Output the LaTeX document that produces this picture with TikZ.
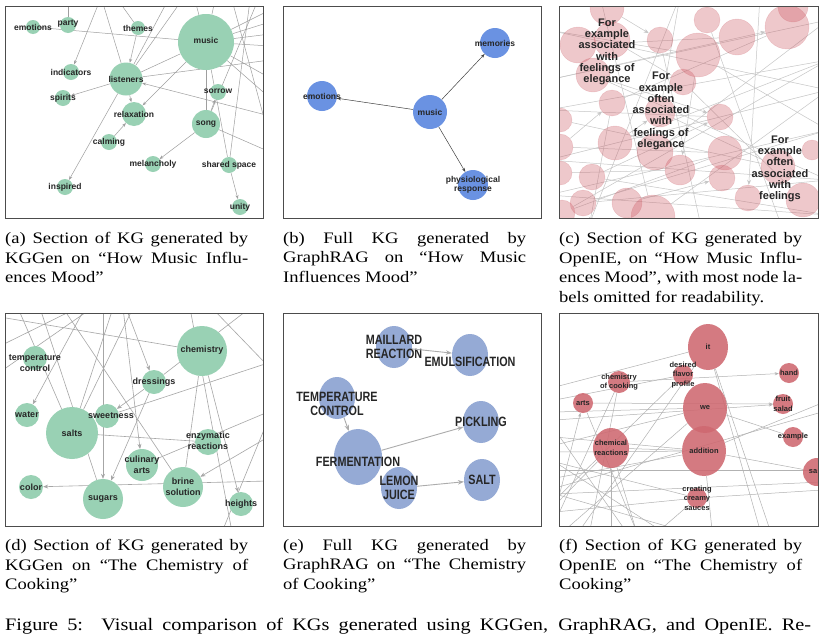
\documentclass[tikz,border=0pt]{standalone}
\usepackage{fontspec}
\setmainfont{Liberation Serif}[FakeStretch=1.16]
\setsansfont{Liberation Sans}
\newfontfamily\narrowsans{Liberation Sans}[FakeStretch=0.8]
\usepackage{xcolor}
\usepackage{tikz}
\usetikzlibrary{arrows.meta, shapes.geometric, backgrounds}
\definecolor{kggreen}{RGB}{153,209,180}
\definecolor{grblue}{RGB}{106,146,226}
\definecolor{grlight}{RGB}{149,170,213}
\definecolor{iepink}{RGB}{205,90,100}
\definecolor{iered}{RGB}{207,104,112}
\tikzset{
  kgnode/.style={circle,fill=kggreen,inner sep=0pt,minimum size=#1},
  grnode/.style={circle,fill=grblue,inner sep=0pt,minimum size=#1},
  glnode/.style={ellipse,fill=grlight,inner sep=0pt,minimum width=36pt,minimum height=42pt},
  ienode/.style={circle,fill=iepink,fill opacity=0.33,draw=iepink,draw opacity=0.25,inner sep=0pt},
  irnode/.style={ellipse,fill=iered,fill opacity=0.88,inner sep=0pt,minimum width=#1,minimum height=#1},
  lbla/.style={font=\sffamily\bfseries\fontsize{8.5}{9.5}\selectfont,text=black!85,align=center,inner sep=0pt},
  lbld/.style={font=\sffamily\bfseries\fontsize{9}{10.5}\selectfont,text=black!85,align=center,inner sep=0pt},
  lblc/.style={font=\sffamily\bfseries\fontsize{11}{11.3}\selectfont,text=black!85,align=center,inner sep=0pt},
  lble/.style={font=\narrowsans\bfseries\fontsize{13.5}{14}\selectfont,text=black!85,align=center,inner sep=0pt},
  lblf/.style={font=\sffamily\bfseries\fontsize{7.5}{9.5}\selectfont,text=black!85,align=center,inner sep=0pt},
  aedge/.style={draw=gray!75,line width=0.5pt},
  aarr/.style={aedge,-{Stealth[length=4pt,width=3pt]}},
  bedge/.style={draw=black!75,line width=0.5pt,-{Stealth[length=4pt,width=3pt]}},
  cedge/.style={draw=gray!45,line width=0.5pt},
  carr/.style={cedge,-{Stealth[length=5pt,width=4pt]}},
  dedge/.style={draw=gray!70,line width=0.6pt},
  darr/.style={dedge,-{Stealth[length=5pt,width=4pt]}},
  eedge/.style={draw=gray!65,line width=0.9pt,-{Stealth[length=6pt,width=4.5pt]}},
  fedge/.style={draw=gray!60,line width=0.5pt},
  farr/.style={fedge,-{Stealth[length=4pt,width=3pt]}},
  panel/.style={draw=black!70,line width=0.8pt},
  subcap/.style={anchor=north west,text width=243pt,align=justify,inner sep=0pt,font=\fontsize{16}{19.6}\selectfont}
}

\begin{document}
\begin{tikzpicture}[x=1pt,y=-1pt]
  \useasboundingbox (0,0) rectangle (820,643);
  \begin{scope}[on background layer]
    \fill[white] (0,0) rectangle (820,643);
  \end{scope}

  % (a) KGGen, music
  \begin{scope}
    \clip (5,6) rectangle (263,218);
    \node[kgnode=56pt,label={[lbla,yshift=2pt]center:music}] (aMusic) at (206,42) {};
    \node[kgnode=33pt,label={[lbla]center:listeners}] (aList) at (126,79) {};
    \node[kgnode=28pt,label={[lbla]center:song}] (aSong) at (206,124) {};
    \node[kgnode=14pt,label={[lbla]center:emotions}] (aEmo) at (33,27) {};
    \node[kgnode=16pt,label={[lbla,yshift=1pt]center:party}] (aParty) at (68,25) {};
    \node[kgnode=14pt,label={[lbla]center:themes}] (aThemes) at (138,28) {};
    \node[kgnode=16pt,label={[lbla]center:indicators}] (aInd) at (71,72) {};
    \node[kgnode=16pt,label={[lbla]center:spirits}] (aSpir) at (63,98) {};
    \node[kgnode=16pt,label={[lbla,yshift=1pt]center:sorrow}] (aSorrow) at (218,92) {};
    \node[kgnode=24pt,label={[lbla]center:relaxation}] (aRelax) at (134,114) {};
    \node[kgnode=16pt,label={[lbla]center:calming}] (aCalm) at (109,142) {};
    \node[kgnode=16pt,label={[lbla]center:melancholy}] (aMel) at (153,164) {};
    \node[kgnode=16pt,label={[lbla]center:shared space}] (aShared) at (229,165) {};
    \node[kgnode=16pt,label={[lbla]center:inspired}] (aInsp) at (65,187) {};
    \node[kgnode=16pt,label={[lbla]center:unity}] (aUnity) at (240,207) {};
  \end{scope}
  \begin{scope}[on background layer]
  \begin{scope}
    \clip (5,6) rectangle (263,218);
    \coordinate (aT1) at (68,0);   \coordinate (aT2) at (100,0);
    \coordinate (aT3) at (102,0);  \coordinate (aT4) at (118,0);
    \coordinate (aT6) at (168,0);  \coordinate (aT7) at (182,0);
    \coordinate (aT8) at (195,0);  \coordinate (aT9) at (215,0);
    \coordinate (aT10) at (232,0); \coordinate (aT11) at (250,0);
    \coordinate (aT12) at (258,0);
    \coordinate (aR1) at (270,116); \coordinate (aR2) at (270,152);
    \coordinate (aR3) at (270,10);  \coordinate (aR4) at (270,22);
    \coordinate (aR5) at (270,34);  \coordinate (aR6) at (270,46);
    \coordinate (aR7) at (270,60);  \coordinate (aR8) at (270,78);
    \coordinate (aR9) at (270,98);  \coordinate (aR10) at (270,140);
    \draw[aedge] (aEmo) -- (aMusic);
    \draw[aedge] (aParty) -- (aT1);
    \draw[aarr] (aT2) -- (aInd);
    \draw[aarr] (aThemes) -- (aList);
    \draw[aedge] (aT3) -- (aList);
    \draw[aedge] (aT4) -- (aThemes);
    \draw[aedge] (aList) -- (aMusic);
    \draw[aedge] (aList) -- (aT6);
    \draw[aedge] (aList) -- (aT7);
    \draw[aedge] (aList) -- (aR7);
    \draw[aarr] (aMusic) -- (aRelax);
    \draw[aarr] (aList) -- (aSpir);
    \draw[aarr] (aList) -- (aRelax);
    \draw[aarr] (aList) -- (aInsp);
    \draw[aarr] (aCalm) -- (aRelax);
    \draw[aarr] (aR1) -- (aList);
    \draw[aarr] (aSong) -- (aSorrow);
    \draw[aarr] (aSong) -- (aMel);
    \draw[aedge] (aSong) -- (aR2);
    \draw[aedge] (aSong) -- (aT12);
    \draw[aedge] (aMusic) -- (aSong);
    \draw[aedge] (aMusic) -- (aShared);
    \draw[aedge] (aT11) -- (aShared);
    \draw[aarr] (aShared) -- (aUnity);
    \draw[aedge] (aT10) -- (aR10);
    \foreach \e in {aT8,aT9,aR3,aR4,aR5,aR6,aR8,aR9}
      \draw[aedge] (aMusic) -- (\e);
  \end{scope}
  \end{scope}
  \draw[panel] (5,6) rectangle (263,218);

  % (b) GraphRAG, music
  \node[grnode=30pt,label={[lbla]center:memories}] (bMem) at (495,43) {};
  \node[grnode=30pt,label={[lbla]center:emotions}] (bEmo) at (322,96) {};
  \node[grnode=34pt,label={[lbla]center:music}] (bMusic) at (430,112) {};
  \node[grnode=30pt,label={[lbla]center:{physiological\\response}}] (bPhys) at (473,185) {};
  \draw[bedge] (bMusic) -- (bEmo);
  \draw[bedge] (bMusic) -- (bMem);
  \draw[bedge] (bMusic) -- (bPhys);
  \draw[panel] (283,6) rectangle (541,218);

  % (c) OpenIE, music
  \begin{scope}
    \clip (559,6) rectangle (818,218);
    \foreach \x/\y/\r [count=\i] in {607/8/17, 578/45/18, 612/40/18, 593/75/17,
        660/40/13, 698/55/22, 707/20/13, 737/37/18, 787/27/22, 793/7/15,
        683/82/13, 612/103/13, 660/112/15, 720/117/13, 560/120/12,
        560/147/13, 615/143/17, 655/152/18, 725/153/17, 812/150/10,
        778/167/17, 680/170/15, 722/178/13, 592/177/13, 560/173/12,
        748/198/13, 583/203/13, 627/203/15, 653/217/22, 803/200/17, 562/213/13}
      \node[ienode,minimum size=\r*2pt] (c\i) at (\x,\y) {};
  \end{scope}
  \begin{scope}[on background layer]
  \begin{scope}
    \clip (559,6) rectangle (818,218);
    \coordinate (cL1) at (548,30);  \coordinate (cL2) at (548,80);
    \coordinate (cL3) at (548,110); \coordinate (cL4) at (548,160);
    \coordinate (cL5) at (548,195);
    \coordinate (cR1) at (828,20);  \coordinate (cR2) at (828,60);
    \coordinate (cR3) at (828,90);  \coordinate (cR4) at (828,130);
    \coordinate (cR5) at (828,180); \coordinate (cR6) at (828,215);
    \coordinate (cT1) at (600,-4);  \coordinate (cT2) at (680,-4);
    \coordinate (cT3) at (760,-4);
    \coordinate (cB1) at (590,222); \coordinate (cB2) at (700,222);
    \coordinate (cB3) at (780,222);
    \foreach \s/\t in {cL1/cR3, cL2/cR1, cL3/cR2, cL4/cR3, cL4/cR5, cL5/cR4,
        cL5/cR6, c2/c8, c12/c9, c15/c21, c16/c19, c17/cR2, c25/c22,
        c31/c19, cT1/c29, cT2/cB1, c5/cB2, c7/cB3, c13/c21, c18/cR1,
        c3/c11, c27/cR5, c24/cR6, c6/cR4, cL1/c6, cL3/c14, c29/cR3,
        c31/cR2, cT2/c13, c4/cR5}
      \draw[cedge] (\s) -- (\t);
    \foreach \s/\t in {cL2/c9, c4/c14, c24/c14, c27/cR4, c6/c22, cT3/c26,
        c11/c30, c12/cB1, c1/c5, c16/c12, c28/c23, c17/c13}
      \draw[carr] (\s) -- (\t);
  \end{scope}
  \end{scope}
  \node[lblc] (cLab1) at (607,52) {For\\example\\associated\\with\\feelings of\\elegance};
  \node[lblc] (cLab2) at (661,111) {For\\example\\often\\associated\\with\\feelings of\\elegance};
  \node[lblc] (cLab3) at (780,169) {For\\example\\often\\associated\\with\\feelings};
  \draw[panel] (559,6) rectangle (818,218);

  % (d) KGGen, cooking
  \begin{scope}
    \clip (5,313) rectangle (263,526);
    \node[kgnode=50pt,label={[lbld,yshift=1pt]center:chemistry}] (dChem) at (202,351) {};
    \node[kgnode=52pt,label={[lbld]center:salts}] (dSalts) at (72,433) {};
    \node[kgnode=24pt,label={[lbld,yshift=-5pt]center:{temperature\\control}}] (dTemp) at (35,358) {};
    \node[kgnode=24pt,label={[lbld]center:dressings}] (dDress) at (154,382) {};
    \node[kgnode=24pt,label={[lbld]center:water}] (dWater) at (27,415) {};
    \node[kgnode=24pt,label={[lbld,xshift=4pt]center:sweetness}] (dSweet) at (107,416) {};
    \node[kgnode=26pt,label={[lbld,yshift=1pt]center:{enzymatic\\reactions}}] (dEnz) at (208,442) {};
    \node[kgnode=32pt,label={[lbld]center:{culinary\\arts}}] (dCul) at (142,465) {};
    \node[kgnode=24pt,label={[lbld]center:color}] (dColor) at (31,487) {};
    \node[kgnode=40pt,label={[lbld]center:{brine\\solution}}] (dBrine) at (183,487) {};
    \node[kgnode=40pt,label={[lbld]center:sugars}] (dSugars) at (103,499) {};
    \node[kgnode=24pt,label={[lbld]center:heights}] (dHeights) at (241,504) {};
  \end{scope}
  \begin{scope}[on background layer]
  \begin{scope}
    \clip (5,313) rectangle (263,526);
    \coordinate (dT1) at (18,308);  \coordinate (dT2) at (85,308);
    \coordinate (dT3) at (63,308);  \coordinate (dT4) at (103,308);
    \coordinate (dT5) at (126,308); \coordinate (dT6) at (123,308);
    \coordinate (dT7) at (113,308); \coordinate (dT8) at (133,308);
    \coordinate (dT9) at (77,308);  \coordinate (dT11) at (212,308);
    \coordinate (dT12) at (250,308); \coordinate (dT13) at (190,308);
    \coordinate (dT14) at (40,308); \coordinate (dT15) at (92,308);
    \coordinate (dL1) at (0,317);   \coordinate (dL2) at (0,346);
    \coordinate (dL3) at (0,372);
    \coordinate (dR1) at (268,437); \coordinate (dR2) at (268,363);
    \coordinate (dR3) at (268,481); \coordinate (dR4) at (268,366);
    \coordinate (dR5) at (268,412); \coordinate (dR6) at (268,420);
    \coordinate (dB1) at (232,532); \coordinate (dB2) at (222,532);
    \draw[dedge] (dL1) -- (dChem);
    \draw[dedge] (dL2) -- (dT9);
    \draw[dedge] (dL3) -- (dT15);
    \draw[dedge] (dT1) -- (dSalts);
    \draw[darr] (dT2) -- (dWater);
    \draw[darr] (dT4) -- (dSugars);
    \draw[darr] (dDress) -- (dSugars);
    \draw[darr] (dDress) -- (dSweet);
    \draw[darr] (dT5) -- (dDress);
    \draw[darr] (dT6) -- (dCul);
    \draw[dedge] (dT7) -- (dSalts);
    \draw[dedge] (dT8) -- (dSalts);
    \draw[dedge] (dSalts) -- (dEnz);
    \draw[dedge] (dT3) -- (dBrine);
    \draw[darr] (dR1) -- (dBrine);
    \draw[dedge] (dR2) -- (dSweet);
    \draw[darr] (dR3) -- (dColor);
    \draw[dedge] (dChem) -- (dBrine);
    \draw[darr] (dChem) -- (dHeights);
    \draw[dedge] (dT11) -- (dR4);
    \draw[dedge] (dT12) -- (dDress);
    \draw[dedge] (dT13) -- (dB1);
    \draw[dedge] (dCul) -- (dR5);
    \draw[dedge] (dB2) -- (dR6);
    \draw[dedge] (dT14) -- (dSugars);
  \end{scope}
  \end{scope}
  \draw[panel] (5,313) rectangle (263,526);

  % (e) GraphRAG, cooking
  \node[glnode,label={[lble]center:{MAILLARD\\REACTION}}] (eMail) at (394,347) {};
  \node[glnode,label={[lble,yshift=-7pt]center:EMULSIFICATION}] (eEmul) at (470,355) {};
  \node[glnode,label={[lble,yshift=-6pt]center:{TEMPERATURE\\CONTROL}}] (eTemp) at (337,398) {};
  \node[glnode,label={[lble]center:PICKLING}] (ePick) at (481,422) {};
  \node[glnode,minimum width=48pt,minimum height=56pt,label={[lble,yshift=-5pt]center:FERMENTATION}] (eFerm) at (358,457) {};
  \node[glnode,label={[lble]center:{LEMON\\JUICE}}] (eLemon) at (399,488) {};
  \node[glnode,label={[lble]center:SALT}] (eSalt) at (482,480) {};
  \draw[eedge] (eMail) -- (eEmul);
  \draw[eedge] (eTemp) -- (eFerm);
  \draw[eedge] (eFerm) -- (ePick);
  \draw[eedge] (eLemon) -- (eSalt);
  \draw[panel] (283,313) rectangle (541,526);

  % (f) OpenIE, cooking
  \begin{scope}
    \clip (559,313) rectangle (818,526);
    \node[irnode=40pt,minimum height=46pt,label={[lblf]center:it}] (fIt) at (708,347) {};
    \node[irnode=44pt,minimum height=50pt,label={[lblf]center:we}] (fWe) at (705,408) {};
    \node[irnode=44pt,minimum height=50pt,label={[lblf]center:addition}] (fAdd) at (704,451) {};
    \node[irnode=36pt,minimum height=40pt,label={[lblf]center:{chemical\\reactions}}] (fChemR) at (611,448) {};
    \node[irnode=20pt,label={[lblf]center:{desired\\flavor\\profile}}] (fDes) at (683,375) {};
    \node[irnode=22pt,label={[lblf]center:{chemistry\\of cooking}}] (fChemC) at (619,382) {};
    \node[irnode=20pt,label={[lblf]center:hand}] (fHand) at (789,373) {};
    \node[irnode=20pt,label={[lblf]center:arts}] (fArts) at (583,403) {};
    \node[irnode=20pt,label={[lblf]center:{fruit\\salad}}] (fFruit) at (783,404) {};
    \node[irnode=20pt,label={[lblf]center:example}] (fEx) at (793,437) {};
    \node[irnode=28pt,label={[lblf,xshift=-4pt]center:sa}] (fSa) at (817,472) {};
    \node[irnode=20pt,label={[lblf]center:{creating\\creamy\\sauces}}] (fCream) at (697,498) {};
  \end{scope}
  \begin{scope}[on background layer]
  \begin{scope}
    \clip (559,313) rectangle (818,526);
    \coordinate (fL1) at (555,387); \coordinate (fL2) at (555,400);
    \coordinate (fL3) at (555,412); \coordinate (fL4) at (555,420);
    \coordinate (fL5) at (555,437); \coordinate (fL6) at (555,452);
    \coordinate (fL7) at (555,470); \coordinate (fL8) at (555,500);
    \coordinate (fL9) at (555,512); \coordinate (fL10) at (555,488);
    \coordinate (fL11) at (555,445); \coordinate (fL12) at (555,478);
    \coordinate (fL13) at (555,505); \coordinate (fL14) at (555,522);
    \coordinate (fL15) at (555,462); \coordinate (fL16) at (555,430);
    \coordinate (fL17) at (555,494);
    \coordinate (fR1) at (822,403); \coordinate (fR2) at (822,412);
    \coordinate (fR3) at (822,470); \coordinate (fR4) at (822,490);
    \coordinate (fR5) at (822,482);
    \coordinate (fB1) at (565,530); \coordinate (fB2) at (611,530);
    \coordinate (fB3) at (636,530); \coordinate (fB4) at (660,530);
    \coordinate (fB5) at (712,530); \coordinate (fB6) at (760,530);
    \coordinate (fB7) at (770,530); \coordinate (fB8) at (590,530);
    \coordinate (fB9) at (580,530); \coordinate (fB10) at (625,530);
    \coordinate (fB11) at (680,530);
    \draw[fedge] (fL1) -- (fIt);
    \draw[fedge] (fL2) -- (fDes);
    \draw[farr] (fL4) -- (fFruit);
    \draw[farr] (fArts) -- (fFruit);
    \draw[farr] (fChemC) -- (fHand);
    \draw[fedge] (fL3) -- (fWe);
    \draw[fedge] (fL5) -- (fAdd);
    \draw[fedge] (fL6) -- (fAdd);
    \draw[farr] (fL9) -- (fArts);
    \draw[farr] (fB2) -- (fChemR);
    \draw[farr] (fL8) -- (fDes);
    \draw[fedge] (fL7) -- (fR3);
    \draw[fedge] (fL10) -- (fR2);
    \draw[fedge] (fIt) -- (fB6);
    \draw[fedge] (fIt) -- (fB7);
    \draw[fedge] (fWe) -- (fEx);
    \draw[fedge] (fAdd) -- (fR1);
    \draw[fedge] (fAdd) -- (fSa);
    \draw[fedge] (fAdd) -- (fB5);
    \draw[fedge] (fChemR) -- (fAdd);
    \draw[fedge] (fChemR) -- (fB3);
    \draw[fedge] (fChemC) -- (fB8);
    \draw[fedge] (fCream) -- (fB4);
    \draw[fedge] (fCream) -- (fR4);
    \draw[fedge] (fCream) -- (fL9);
    \draw[fedge] (fB1) -- (fWe);
    \draw[fedge] (fL11) -- (fWe);
    \draw[fedge] (fL12) -- (fAdd);
    \draw[fedge] (fL13) -- (fChemR);
    \draw[fedge] (fL14) -- (fChemC);
    \draw[fedge] (fB9) -- (fIt);
    \draw[fedge] (fL15) -- (fB4);
    \draw[fedge] (fL16) -- (fB10);
    \draw[fedge] (fL17) -- (fR5);
    \draw[fedge] (fCream) -- (fL15);
    \draw[fedge] (fL17) -- (fB11);
    \draw[fedge] (fArts) -- (fB3);
  \end{scope}
  \end{scope}
  \draw[panel] (559,313) rectangle (818,526);

  % captions
  \node[subcap] (capA) at (5,232) {(a) Section of KG generated by\linebreak KGGen on ``How Music Influ-\linebreak ences Mood''};
  \node[subcap] (capB) at (283,232) {(b) Full KG generated by\linebreak GraphRAG on ``How Music\linebreak Influences Mood''};
  \node[subcap] (capC) at (559,232) {(c) Section of KG generated by\linebreak OpenIE, on ``How Music Influ-\linebreak ences Mood'', with most node la-\linebreak bels omitted for readability.};
  \node[subcap] (capD) at (5,539) {(d) Section of KG generated by\linebreak KGGen on ``The Chemistry of\linebreak Cooking''};
  \node[subcap] (capE) at (283,539) {(e) Full KG generated by\linebreak GraphRAG on ``The Chemistry\linebreak of Cooking''};
  \node[subcap] (capF) at (559,539) {(f) Section of KG generated by\linebreak OpenIE on ``The Chemistry of\linebreak Cooking''};
  \node[anchor=west,inner sep=0pt,font=\fontsize{17.5}{20}\selectfont] (figcap) at (5,626)
    {\makebox[806pt][s]{Figure 5:\ \ Visual comparison of KGs generated using KGGen, GraphRAG, and OpenIE. Re-}};
\end{tikzpicture}
\end{document}
